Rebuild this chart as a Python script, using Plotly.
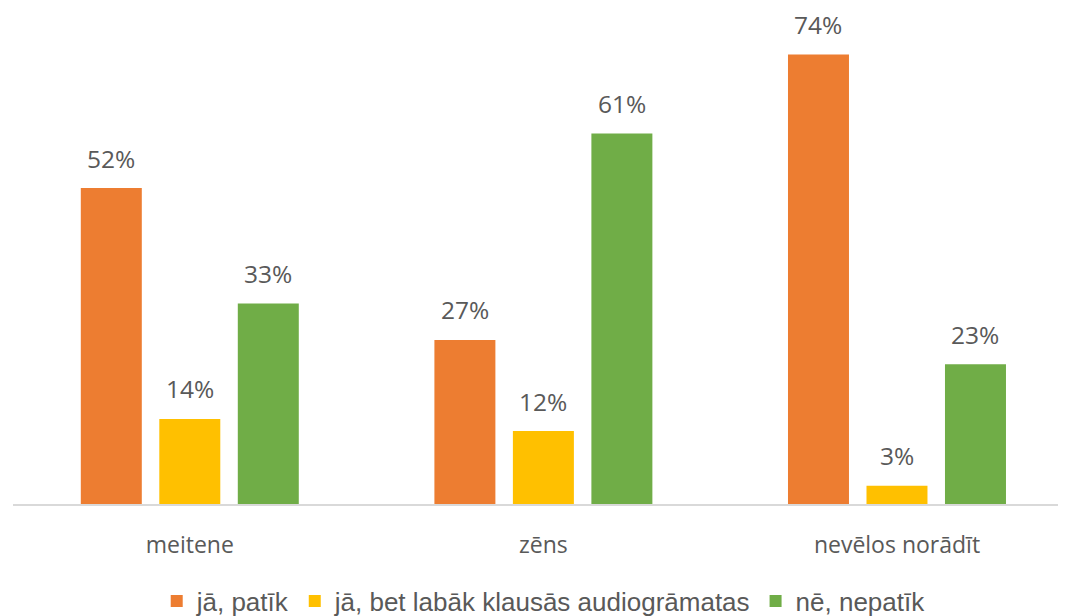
import plotly.graph_objects as go

categories = ["meitene", "zēns", "nevēlos norādīt"]
series_names = ["jā, patīk", "jā, bet labāk klausās audiogrāmatas", "nē, nepatīk"]
values_patik = [52, 27, 74]
values_audio = [14, 12, 3]
values_nepatik = [33, 61, 23]
colors = ["#ED7D31", "#FFC000", "#70AD47"]

series_values = [values_patik, values_audio, values_nepatik]

FONT = "Open Sans"
TXT = "#595959"

fig = go.Figure()
for name, vals, col in zip(series_names, series_values, colors):
    fig.add_trace(go.Bar(x=categories, y=vals, name=name, marker=dict(color=col, line=dict(width=0))))

# data labels
slot_px = 78.5
annotations = []
for j, vals in enumerate(series_values):
    for cat, v in zip(categories, vals):
        annotations.append(dict(
            x=cat, y=v, xref="x", yref="y", text=f"{v}%", showarrow=False,
            xshift=(j - 1) * slot_px, yshift=30, yanchor="middle",
            font=dict(family=FONT, size=24.5, color=TXT)))

fig.update_layout(
    width=1058, height=608,
    margin=dict(l=5, r=0, t=10, b=112, autoexpand=False),
    paper_bgcolor="white", plot_bgcolor="white",
    barmode="group", bargap=0.334, bargroupgap=0.223,
    annotations=annotations,
    font=dict(family=FONT, size=23, color=TXT),
    showlegend=True,
    legend=dict(orientation="h", x=0.504, xanchor="center", y=-0.1996, yanchor="middle",
                font=dict(family="Liberation Sans", size=26, color=TXT),
                traceorder="normal"),
    xaxis=dict(range=[-0.5, 2.478], showline=True, linecolor="#D9D9D9", linewidth=2,
               showgrid=False, ticks="", tickfont=dict(family=FONT, size=23, color=TXT),
               ticklabelstandoff=19),
    yaxis=dict(range=[0, 80], showgrid=False, showticklabels=False, zeroline=False,
               showline=False),
)

fig.write_html("out.html")
